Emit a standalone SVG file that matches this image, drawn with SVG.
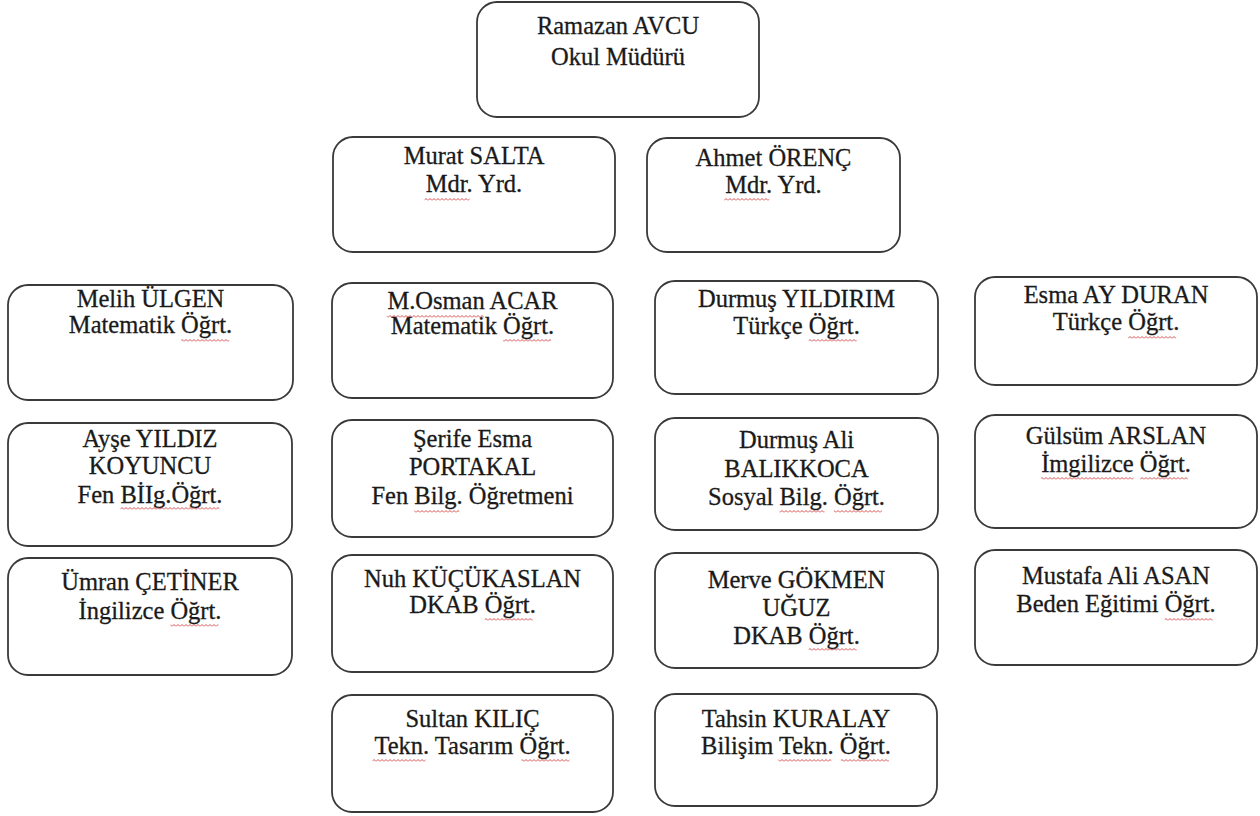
<svg xmlns="http://www.w3.org/2000/svg" width="1260" height="816" viewBox="0 0 1260 816">
<style>
.box{fill:#fff;stroke:#3a3a3a;stroke-width:1.8}
.t{font-family:"Liberation Serif","Times New Roman",serif;font-size:24.5px;fill:#1a1a1a;stroke:#1a1a1a;stroke-width:0.3;text-anchor:middle}
.w{fill:url(#wave)}
</style>
<defs>
<pattern id="wave" width="4" height="3" patternUnits="userSpaceOnUse"><path d="M0 2.5 L2 0.5 L4 2.5" fill="none" stroke="#d43c3c" stroke-width="0.9"/></pattern>
</defs>
<rect width="1260" height="816" fill="#fff"/>
<g id="connectors"></g>
<g id="n-ramazan"><rect class="box" x="477" y="2" width="282" height="115" rx="20"/><text class="t" x="618" y="34">Ramazan AVCU</text><text class="t" x="618" y="65">Okul Müdürü</text></g>
<g id="n-murat"><rect class="box" x="333" y="137" width="282" height="115" rx="20"/><text class="t" x="474" y="164">Murat SALTA</text><text class="t" x="474" y="192">Mdr. Yrd.</text><rect class="w" x="424.6" y="198" width="45" height="3"/></g>
<g id="n-ahmet"><rect class="box" x="647" y="138" width="253" height="114" rx="20"/><text class="t" x="773.5" y="166">Ahmet ÖRENÇ</text><text class="t" x="773.5" y="193">Mdr. Yrd.</text><rect class="w" x="724.2" y="198" width="45" height="3"/></g>
<g id="n-melih"><rect class="box" x="8" y="285" width="285" height="115" rx="20"/><text class="t" x="150.5" y="307">Melih ÜLGEN</text><text class="t" x="150.5" y="333">Matematik Öğrt.</text><rect class="w" x="181.2" y="339" width="48" height="3"/></g>
<g id="n-osman"><rect class="box" x="332" y="283" width="281" height="115" rx="20"/><text class="t" x="472.5" y="309">M.Osman ACAR</text><text class="t" x="472.5" y="334">Matematik Öğrt.</text><rect class="w" x="386.8" y="315" width="97" height="3"/><rect class="w" x="503.1" y="339" width="48" height="3"/></g>
<g id="n-durmus-yildirim"><rect class="box" x="655" y="281" width="283" height="113" rx="20"/><text class="t" x="796.5" y="307">Durmuş YILDIRIM</text><text class="t" x="796.5" y="334">Türkçe Öğrt.</text><rect class="w" x="808.7" y="339" width="48" height="3"/></g>
<g id="n-esma"><rect class="box" x="975" y="277" width="282" height="108" rx="20"/><text class="t" x="1116" y="303">Esma AY DURAN</text><text class="t" x="1116" y="330">Türkçe Öğrt.</text><rect class="w" x="1128.2" y="336" width="48" height="3"/></g>
<g id="n-ayse"><rect class="box" x="8" y="423" width="284" height="123" rx="20"/><text class="t" x="150" y="447">Ayşe YILDIZ</text><text class="t" x="150" y="474">KOYUNCU</text><text class="t" x="150" y="503">Fen BİIg.Öğrt.</text><rect class="w" x="120.4" y="507" width="99" height="3"/></g>
<g id="n-serife"><rect class="box" x="332" y="420" width="281" height="117" rx="20"/><text class="t" x="472.5" y="447">Şerife Esma</text><text class="t" x="472.5" y="475">PORTAKAL</text><text class="t" x="472.5" y="504">Fen Bilg. Öğretmeni</text><rect class="w" x="414.3" y="510" width="45" height="3"/></g>
<g id="n-durmus-ali"><rect class="box" x="655" y="418" width="283" height="112" rx="20"/><text class="t" x="796.5" y="448">Durmuş Ali</text><text class="t" x="796.5" y="477">BALIKKOCA</text><text class="t" x="796.5" y="505">Sosyal Bilg. Öğrt.</text><rect class="w" x="779.5" y="510" width="45" height="3"/><rect class="w" x="833.9" y="510" width="48" height="3"/></g>
<g id="n-gulsum"><rect class="box" x="975" y="415" width="282" height="113" rx="20"/><text class="t" x="1116" y="444">Gülsüm ARSLAN</text><text class="t" x="1116" y="472">İmgilizce Öğrt.</text><rect class="w" x="1041.2" y="477" width="92.5" height="3"/><rect class="w" x="1139.9" y="477" width="48" height="3"/></g>
<g id="n-umran"><rect class="box" x="8" y="558" width="284" height="117" rx="20"/><text class="t" x="150" y="590">Ümran ÇETİNER</text><text class="t" x="150" y="619">İngilizce Öğrt.</text><rect class="w" x="170.4" y="624" width="48" height="3"/></g>
<g id="n-nuh"><rect class="box" x="332" y="555" width="281" height="117" rx="20"/><text class="t" x="472.5" y="587">Nuh KÜÇÜKASLAN</text><text class="t" x="472.5" y="613">DKAB Öğrt.</text><rect class="w" x="484.7" y="618" width="48" height="3"/></g>
<g id="n-merve"><rect class="box" x="655" y="553" width="283" height="115" rx="20"/><text class="t" x="796.5" y="588">Merve GÖKMEN</text><text class="t" x="796.5" y="616">UĞUZ</text><text class="t" x="796.5" y="644">DKAB Öğrt.</text><rect class="w" x="808.7" y="648" width="48" height="3"/></g>
<g id="n-mustafa"><rect class="box" x="975" y="550" width="282" height="115" rx="20"/><text class="t" x="1116" y="584">Mustafa Ali ASAN</text><text class="t" x="1116" y="612">Beden Eğitimi Öğrt.</text><rect class="w" x="1164.7" y="618" width="48" height="3"/></g>
<g id="n-sultan"><rect class="box" x="332" y="695" width="281" height="117" rx="20"/><text class="t" x="472.5" y="727">Sultan KILIÇ</text><text class="t" x="472.5" y="754">Tekn. Tasarım Öğrt.</text><rect class="w" x="372.5" y="759" width="53" height="3"/><rect class="w" x="521.5" y="759" width="48" height="3"/></g>
<g id="n-tahsin"><rect class="box" x="655" y="694" width="282" height="112" rx="20"/><text class="t" x="796" y="727">Tahsin KURALAY</text><text class="t" x="796" y="754">Bilişim Tekn. Öğrt.</text><rect class="w" x="778.3" y="759" width="53" height="3"/><rect class="w" x="840.9" y="759" width="48" height="3"/></g>
</svg>
